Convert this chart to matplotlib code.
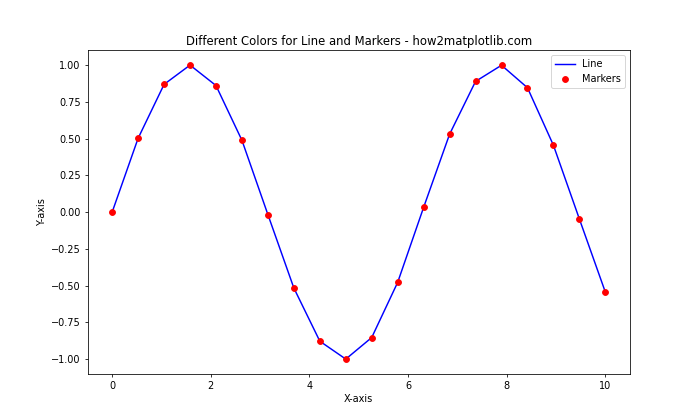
import matplotlib
matplotlib.use("Agg")
import matplotlib.pyplot as plt

# values
x_vals = [0.0, 0.526, 1.053, 1.579, 2.105, 2.632, 3.158, 3.684, 4.211, 4.737,
          5.263, 5.789, 6.316, 6.842, 7.368, 7.895, 8.421, 8.947, 9.474, 10.0]
y_vals = [0.0, 0.502, 0.869, 1.0, 0.861, 0.488, -0.017, -0.516, -0.878, -0.9997,
          -0.853, -0.478, 0.033, 0.530, 0.889, 0.999, 0.846, 0.455, -0.047, -0.544]

plt.figure(figsize=(10, 6), dpi=70)
plt.plot(x_vals, y_vals, color='blue', label='Line')
plt.scatter(x_vals, y_vals, color='red', zorder=3, label='Markers')

plt.title('Different Colors for Line and Markers - how2matplotlib.com')
plt.xlabel('X-axis')
plt.ylabel('Y-axis')
plt.legend()
plt.savefig('out.png')
